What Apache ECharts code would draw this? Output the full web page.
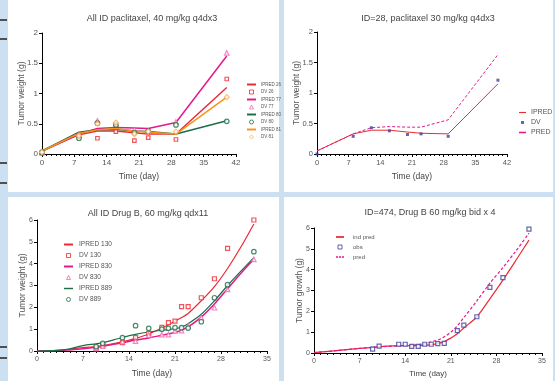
<!DOCTYPE html>
<html><head><meta charset="utf-8">
<script src="https://cdn.jsdelivr.net/npm/echarts@6/dist/echarts.min.js"></script>
<style>html,body{margin:0;padding:0;background:#cde0f2}#c{width:555px;height:381px}</style>
</head><body><div id="c"></div><script>
// ---- Panel 1: All ID paclitaxel, 40 mg/kg q4dx3
const timesA = [0, 8, 12, 16, 20, 23, 29, 40];
const ipred26 = [0.05, 0.32, 0.38, 0.38, 0.35, 0.33, 0.33, 1.10];
const dv26    = [0.01, 0.29, 0.26, 0.37, 0.22, 0.27, 0.24, 1.24];
const ipred77 = [0.05, 0.33, 0.42, 0.44, 0.43, 0.42, 0.52, 1.62];
const dv77    = [0.03, 0.32, 0.55, 0.50, 0.40, 0.38, 0.53, 1.67];
const ipred80 = [0.05, 0.36, 0.40, 0.41, 0.38, 0.37, 0.33, 0.55];
const dv80    = [0.03, 0.26, 0.51, 0.48, 0.35, 0.38, 0.48, 0.54];
const ipred81 = [0.05, 0.34, 0.40, 0.42, 0.38, 0.36, 0.33, 0.94];
const dv81    = [0.03, 0.30, 0.50, 0.52, 0.33, 0.37, 0.37, 0.94];
// ---- Panel 2: ID=28, paclitaxel 30 mg/kg q4dx3
const timesB = [0, 8, 12, 16, 20, 23, 29, 40];
const ipred28 = [0.05, 0.33, 0.39, 0.39, 0.36, 0.34, 0.33, 1.15];
const dv28    = [0.00, 0.29, 0.43, 0.38, 0.32, 0.33, 0.29, 1.21];
const pred28  = [0.05, 0.33, 0.43, 0.45, 0.44, 0.44, 0.56, 1.63];
// ---- Panel 3: All ID Drug B, 60 mg/kg qdx11
const timesDV3 = [9, 10, 13, 15, 17, 19, 20, 21, 22, 23, 25, 27, 29, 33];
const dv130 = [0.09, 0.26, 0.38, 0.61, 0.81, 1.08, 1.30, 1.37, 2.03, 2.03, 2.44, 3.31, 4.70, 6.00];
const dv830 = [0.13, 0.22, 0.43, 0.45, 0.73, 0.75, 0.75, 0.92, 0.93, 1.15, 1.53, 1.98, 2.82, 4.20];
const dv889 = [0.20, 0.35, 0.61, 1.16, 1.04, 1.00, 1.04, 1.07, 1.07, 1.05, 1.34, 2.44, 3.04, 4.55];
const timesFit3 = [0, 3, 5, 7, 9, 10, 13, 15, 17, 19, 20, 21, 22, 23, 25, 27, 29, 31, 33];
const ipred130 = [0, 0.03, 0.08, 0.16, 0.20, 0.25, 0.42, 0.58, 0.78, 1.05, 1.20, 1.36, 1.53, 1.72, 2.30, 2.95, 3.78, 4.75, 5.82];
const ipred830 = [0, 0.01, 0.05, 0.10, 0.17, 0.22, 0.38, 0.50, 0.60, 0.72, 0.78, 0.85, 0.95, 1.10, 1.55, 2.15, 2.85, 3.55, 4.20];
const ipred889 = [0, 0.03, 0.10, 0.25, 0.33, 0.38, 0.62, 0.76, 0.87, 0.95, 0.98, 1.02, 1.10, 1.25, 1.68, 2.30, 3.00, 3.65, 4.28];
// ---- Panel 4: ID=474, Drug B 60 mg/kg bid x 4
const timesObs4 = [9, 10, 13, 14, 15, 16, 17, 18, 19, 20, 22, 23, 25, 27, 29, 33];
const obs474 = [0.19, 0.33, 0.42, 0.42, 0.32, 0.32, 0.42, 0.42, 0.45, 0.46, 1.07, 1.34, 1.74, 3.15, 3.62, 5.95];
const timesFit4 = [0, 3, 7, 9, 10, 13, 15, 17, 18, 19, 20, 21, 22, 23, 25, 27, 29, 31, 33];
const indPred474 = [0.02, 0.10, 0.22, 0.27, 0.30, 0.35, 0.35, 0.37, 0.40, 0.45, 0.55, 0.72, 0.92, 1.20, 1.74, 2.60, 3.50, 4.45, 5.42];
const pred474    = [0.02, 0.10, 0.22, 0.27, 0.30, 0.34, 0.37, 0.45, 0.54, 0.62, 0.78, 1.00, 1.30, 1.70, 2.50, 3.35, 4.10, 4.90, 5.75];
// ---- Tick labels
const xTicksTop = [0, 7, 14, 21, 28, 35, 42];
const xTicksBottom = [0, 7, 14, 21, 28, 35];
const yTicksTop = [0, 0.5, 1, 1.5, 2];
const yTicksBottom = [0, 1, 2, 3, 4, 5, 6];

const FONT = 'Liberation Sans, Arial, sans-serif';
const pairs = (t, v) => t.map((x, i) => [x, v[i]]);

function xAxis(gi, ticks, fs, nameFs, nameGap) {
  return {
    gridIndex: gi, type: 'value', min: ticks[0], max: ticks[ticks.length - 1],
    interval: ticks[1] - ticks[0],
    axisLine: { show: true, onZero: false, lineStyle: { color: '#000', width: 1 } },
    axisTick: { show: true, length: 3, lineStyle: { color: '#000' } },
    minorTick: { show: true, splitNumber: 7, length: 2, lineStyle: { color: '#000' } },
    splitLine: { show: false },
    axisLabel: { fontSize: fs, color: '#555', margin: 5, fontFamily: FONT },
    name: 'Time (day)', nameLocation: 'middle', nameGap: nameGap, nameMoveOverlap: false,
    nameTextStyle: { fontSize: nameFs, color: '#444', fontFamily: FONT }
  };
}
function yAxis(gi, ticks, name, fs, nameGap) {
  return {
    gridIndex: gi, type: 'value', min: ticks[0], max: ticks[ticks.length - 1],
    interval: ticks[1] - ticks[0],
    axisLine: { show: true, onZero: false, lineStyle: { color: '#000', width: 1 } },
    axisTick: { show: true, length: 3, lineStyle: { color: '#000' } },
    splitLine: { show: false },
    axisLabel: { fontSize: fs, color: '#555', margin: 4, fontFamily: FONT },
    name: name, nameLocation: 'middle', nameGap: nameGap, nameRotate: 90, nameMoveOverlap: false,
    nameTextStyle: { fontSize: 8.5, color: '#555', fontFamily: FONT }
  };
}
function line(name, gi, t, v, color, width, extra) {
  return Object.assign({
    name, type: 'line', xAxisIndex: gi, yAxisIndex: gi, data: pairs(t, v),
    symbol: 'none', showSymbol: false, lineStyle: { color, width }, itemStyle: { color },
    animation: false
  }, extra || {});
}
function dots(name, gi, t, v, color, symbol, size, filled) {
  return {
    name, type: 'scatter', xAxisIndex: gi, yAxisIndex: gi, data: pairs(t, v),
    symbol, symbolSize: size,
    itemStyle: filled ? { color } : { color: '#fff', borderColor: color, borderWidth: 1.2 },
    animation: false, z: 3
  };
}
const legendText = (fs, pad) => ({ fontSize: fs, color: '#555', fontFamily: FONT, padding: [0, 0, 0, pad || 0] });

// legend icons (keep aspect)
const IC = {
  thick: 'path://M0,0H10V2.2H0Z',
  thin: 'path://M0,0H10V1.6H0Z',
  dash: 'path://M0,0H2.6V2H0ZM3.7,0H6.3V2H3.7ZM7.4,0H10V2H7.4Z',
  sq: 'path://M0,0H10V10H0Z',
  tri: 'path://M5,0L10,10H0Z',
  circ: 'path://M5,0A5,5,0,1,1,5,10A5,5,0,1,1,5,0Z',
  dia: 'path://M5,0L10,5L5,10L0,5Z'
};
const lg = (name, icon, color) => ({ name, icon, itemStyle: { color } });
const lgHollow = (name, icon, color, bw) => ({ name, icon, itemStyle: { color: '#fff', borderColor: color, borderWidth: bw || 1 } });

const red = '#ec2a35', mag = '#e6188c', grn = '#1c6e47', org = '#f7941d', lorg = '#f8b25a', navy = '#3b3f9e', pink = '#f06ab0';

const option = {
  backgroundColor: '#cde0f2',
  animation: false,
  graphic: [
    { type: 'rect', shape: { x: 8, y: 0, width: 271, height: 192 }, style: { fill: '#fff' }, z: -10, silent: true },
    { type: 'rect', shape: { x: 284, y: 0, width: 269, height: 192 }, style: { fill: '#fff' }, z: -10, silent: true },
    { type: 'rect', shape: { x: 8, y: 197, width: 271, height: 184 }, style: { fill: '#fff' }, z: -10, silent: true },
    { type: 'rect', shape: { x: 284, y: 197, width: 269, height: 184 }, style: { fill: '#fff' }, z: -10, silent: true },
    ...[20, 39, 163, 183, 347, 358].map(y => ({ type: 'line', shape: { x1: 0, y1: y, x2: 7, y2: y }, style: { stroke: '#222', lineWidth: 1.5 }, silent: true }))
  ],
  title: [
    { text: 'All ID paclitaxel, 40 mg/kg q4dx3', left: 147, top: 9, textAlign: 'center', textStyle: { fontSize: 9, fontWeight: 'normal', color: '#444', fontFamily: FONT } },
    { text: 'ID=28, paclitaxel 30 mg/kg q4dx3', left: 423, top: 9, textAlign: 'center', textStyle: { fontSize: 9, fontWeight: 'normal', color: '#444', fontFamily: FONT } },
    { text: 'All ID Drug B, 60 mg/kg qdx11', left: 143, top: 204, textAlign: 'center', textStyle: { fontSize: 9, fontWeight: 'normal', color: '#444', fontFamily: FONT } },
    { text: 'ID=474, Drug B 60 mg/kg bid x 4', left: 425, top: 203, textAlign: 'center', textStyle: { fontSize: 9, fontWeight: 'normal', color: '#444', fontFamily: FONT } }
  ],
  grid: [
    { left: 42, top: 33, width: 194, height: 121 },
    { left: 317, top: 32, width: 190, height: 122 },
    { left: 37, top: 220, width: 230, height: 131 },
    { left: 314, top: 228, width: 228, height: 125 }
  ],
  xAxis: [
    xAxis(0, xTicksTop, 8, 8.5, 18), xAxis(1, xTicksTop, 7.5, 8.5, 18),
    xAxis(2, xTicksBottom, 7, 8.5, 18), xAxis(3, xTicksBottom, 7, 8, 17)
  ],
  yAxis: [
    yAxis(0, yTicksTop, 'Tumor weight (g)', 8, 16), yAxis(1, yTicksTop, 'Tumor weight (g)', 7.5, 16),
    yAxis(2, yTicksBottom, 'Tumor weight (g)', 7, 10), yAxis(3, yTicksBottom, 'Tumor growth (g)', 7, 10)
  ],
  legend: [
    { left: 242, top: 77, orient: 'vertical', itemWidth: 9, itemHeight: 4, itemGap: 2.5, selectedMode: false,
      textStyle: legendText(4.5, 0),
      data: [lg('IPRED 26', IC.thick, red), lgHollow('DV 26', IC.sq, red), lg('IPRED 77', IC.thick, mag), lgHollow('DV 77', IC.tri, pink),
             lg('IPRED 80', IC.thick, grn), lgHollow('DV 80', IC.circ, grn), lg('IPRED 81', IC.thick, org), lgHollow('DV 81', IC.dia, lorg)] },
    { left: 514, top: 104, orient: 'vertical', itemWidth: 7, itemHeight: 3, itemGap: 3, selectedMode: false,
      textStyle: legendText(7, 0),
      data: [lg('IPRED', IC.thin, red), lg('DV', IC.sq, navy), lg('PRED', IC.thick, mag)] },
    { left: 59, top: 236, orient: 'vertical', itemWidth: 9, itemHeight: 4, itemGap: 4, selectedMode: false,
      textStyle: legendText(6.6, 1),
      data: [lg('IPRED 130', IC.thick, red), lgHollow('DV 130', IC.sq, red), lg('IPRED 830', IC.thick, mag), lgHollow('DV 830', IC.tri, pink),
             lg('IPRED 889', IC.thin, grn), lgHollow('DV 889', IC.circ, grn)] },
    { left: 331, top: 229, orient: 'vertical', itemWidth: 8, itemHeight: 4, itemGap: 4, selectedMode: false,
      textStyle: legendText(6, 4),
      data: [lg('ind pred', IC.thick, red), lgHollow('obs', IC.sq, navy), lg('pred', IC.dash, mag)] }
  ],
  series: [
    line('IPRED 26', 0, timesA, ipred26, red, 1.5),
    dots('DV 26', 0, timesA, dv26, red, 'rect', 3.5, false),
    line('IPRED 77', 0, timesA, ipred77, mag, 1.5),
    dots('DV 77', 0, timesA, dv77, pink, 'triangle', 4.5, false),
    line('IPRED 80', 0, timesA, ipred80, grn, 1.5),
    dots('DV 80', 0, timesA, dv80, grn, 'circle', 4.5, false),
    line('IPRED 81', 0, timesA, ipred81, org, 1.5),
    dots('DV 81', 0, timesA, dv81, lorg, 'diamond', 5, false),

    line('IPRED', 1, timesB, ipred28, red, 1),
    dots('DV', 1, timesB, dv28, navy, 'rect', 3, true),
    line('PRED', 1, timesB, pred28, mag, 1, { lineStyle: { color: mag, width: 1, type: [3, 2] } }),

    line('IPRED 130', 2, timesFit3, ipred130, red, 1.2, { smooth: 0.3 }),
    dots('DV 130', 2, timesDV3, dv130, red, 'rect', 4, false),
    line('IPRED 830', 2, timesFit3, ipred830, mag, 1.5, { smooth: 0.3 }),
    dots('DV 830', 2, timesDV3, dv830, pink, 'triangle', 4.5, false),
    line('IPRED 889', 2, timesFit3, ipred889, grn, 1.2, { smooth: 0.3 }),
    dots('DV 889', 2, timesDV3, dv889, grn, 'circle', 4.5, false),

    line('ind pred', 3, timesFit4, indPred474, red, 1.2, { smooth: 0.3 }),
    dots('obs', 3, timesObs4, obs474, navy, 'rect', 4, false),
    line('pred', 3, timesFit4, pred474, mag, 1.2, { smooth: 0.3, lineStyle: { color: mag, width: 1.2, type: [3, 2] } })
  ]
};
echarts.init(document.getElementById('c'), null, { renderer: 'canvas' }).setOption(option);
</script></body></html>
